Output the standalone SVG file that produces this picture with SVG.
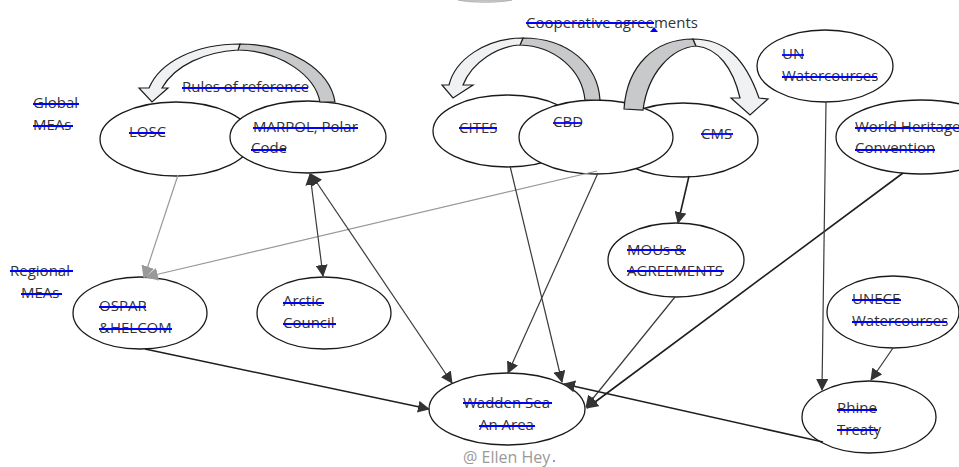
<svg xmlns="http://www.w3.org/2000/svg" width="959" height="467" viewBox="0 0 959 467">
<style>
.n{fill:#fff;stroke:#1a1a1a;stroke-width:1.3}
.t{font-family:"Open Sans","Liberation Sans",sans-serif;font-size:15px;fill:#333}
.s{stroke:#0000ff;stroke-width:1.8}
.c{fill:none;stroke:#3a3a3a;stroke-width:1.2}
.ck{fill:none;stroke:#1e1e1e;stroke-width:1.6}
.cg{fill:none;stroke:#999;stroke-width:1.2}
.lt{fill:#f0f1f3;stroke:#1e1e1e;stroke-width:1.2;stroke-linejoin:miter}
.dk{fill:#c8c9cb;stroke:#1e1e1e;stroke-width:1.2}
</style>
<defs>
<marker id="ah" viewBox="0 0 12 12" markerWidth="12" markerHeight="12" refX="11" refY="6" orient="auto-start-reverse" markerUnits="userSpaceOnUse"><path d="M0,0 L12,6 L0,12 Z" fill="#333"/></marker>
<marker id="ag" viewBox="0 0 12 12" markerWidth="13" markerHeight="13" refX="11" refY="6" orient="auto-start-reverse" markerUnits="userSpaceOnUse"><path d="M0,0 L12,6 L0,12 Z" fill="#999"/></marker>
</defs>
<rect width="959" height="467" fill="#fff"/>
<path d="M458,0 C470,3 500,3 512,0 Z" fill="#cfcfcf" stroke="#aaa" stroke-width="0.8"/>

<g id="label-global"><text class="t" x="33" y="108">Global</text><line class="s" x1="33" y1="104" x2="79" y2="104"/><text class="t" x="33" y="130">MEAs</text><line class="s" x1="33" y1="126" x2="73" y2="126"/></g>
<g id="label-regional"><text class="t" x="10" y="276">Regional</text><line class="s" x1="10" y1="271" x2="73" y2="271"/><text class="t" x="21" y="298">MEAs</text><line class="s" x1="21" y1="294" x2="62" y2="294"/></g>
<g id="label-rules"><text class="t" x="182" y="92">Rules of reference</text><line class="s" x1="182" y1="88" x2="308" y2="88"/></g>
<g id="label-coop"><text class="t" x="526" y="28">Cooperative agreements</text><line class="s" x1="526" y1="23" x2="654" y2="23"/><path d="M650,32 L654,27 L658,32 Z" fill="#0000ff"/></g>

<g id="losc"><ellipse class="n" cx="176" cy="139" rx="76" ry="37"/><text class="t" x="129" y="137">LOSC</text><line class="s" x1="129" y1="133" x2="165" y2="133"/></g>
<g id="marpol"><ellipse class="n" cx="308" cy="137" rx="78" ry="36"/><text class="t" x="253" y="132">MARPOL, Polar</text><line class="s" x1="253" y1="128" x2="358" y2="128"/><text class="t" x="251" y="153">Code</text><line class="s" x1="251" y1="150" x2="286" y2="150"/></g>
<g id="cites"><ellipse class="n" cx="507" cy="131" rx="74" ry="36"/><text class="t" x="459" y="133">CITES</text><line class="s" x1="459" y1="128" x2="497" y2="128"/></g>
<g id="cms"><ellipse class="n" cx="683" cy="140" rx="75" ry="37"/><text class="t" x="701" y="139">CMS</text><line class="s" x1="701" y1="134" x2="733" y2="134"/></g>
<g id="cbd"><ellipse class="n" cx="596" cy="137" rx="77" ry="37"/><text class="t" x="553" y="127">CBD</text><line class="s" x1="553" y1="123" x2="582" y2="123"/></g>
<g id="un"><ellipse class="n" cx="825" cy="66" rx="68" ry="36"/><text class="t" x="782" y="59">UN</text><line class="s" x1="782" y1="55" x2="804" y2="55"/><text class="t" x="782" y="81">Watercourses</text><line class="s" x1="782" y1="77" x2="877" y2="77"/></g>
<g id="whc"><ellipse class="n" cx="921" cy="137" rx="85" ry="37"/><text class="t" x="855" y="132">World Heritage</text><line class="s" x1="855" y1="128" x2="959" y2="128"/><text class="t" x="855" y="153">Convention</text><line class="s" x1="855" y1="150" x2="935" y2="150"/></g>
<g id="mous"><ellipse class="n" cx="676" cy="260" rx="68" ry="37"/><text class="t" x="627" y="255">MOUs &amp;</text><line class="s" x1="627" y1="250" x2="686" y2="250"/><text class="t" x="627" y="276">AGREEMENTS</text><line class="s" x1="627" y1="271" x2="724" y2="271"/></g>
<g id="ospar"><ellipse class="n" cx="140" cy="313" rx="67" ry="36"/><text class="t" x="99" y="311">OSPAR</text><line class="s" x1="99" y1="307" x2="146" y2="307"/><text class="t" x="99" y="333">&amp;HELCOM</text><line class="s" x1="99" y1="329" x2="172" y2="329"/></g>
<g id="arctic"><ellipse class="n" cx="324" cy="313" rx="67" ry="36"/><text class="t" x="283" y="306">Arctic</text><line class="s" x1="283" y1="303" x2="324" y2="303"/><text class="t" x="283" y="328">Council</text><line class="s" x1="283" y1="324" x2="336" y2="324"/></g>
<g id="unece"><ellipse class="n" cx="893" cy="312" rx="66" ry="36"/><text class="t" x="852" y="304">UNECE</text><line class="s" x1="852" y1="300" x2="901" y2="300"/><text class="t" x="852" y="326">Watercourses</text><line class="s" x1="852" y1="322" x2="947" y2="322"/></g>
<g id="rhine"><ellipse class="n" cx="869" cy="417" rx="67" ry="36"/><text class="t" x="837" y="413">Rhine</text><line class="s" x1="837" y1="410" x2="877" y2="410"/><text class="t" x="837" y="435">Treaty</text><line class="s" x1="837" y1="430" x2="878" y2="430"/></g>
<g id="wadden"><ellipse class="n" cx="507" cy="409" rx="78" ry="36"/><text class="t" x="463" y="408">Wadden Sea</text><line class="s" x1="463" y1="403" x2="552" y2="403"/><text class="t" x="479" y="430">An Area</text><line class="s" x1="479" y1="426" x2="535" y2="426"/></g>
<g id="credit"><text x="463" y="463" style="font-family:'Open Sans','Liberation Sans',sans-serif;font-size:16px;fill:#9a9a9a">@ Ellen Hey</text><circle cx="554" cy="461" r="0.8" fill="#00f"/></g>

<g id="connectors">
<path class="cg" d="M178,175 L144,278" marker-end="url(#ag)"/>
<path class="cg" d="M597,171 L146,277" marker-end="url(#ag)"/>
<path class="c" d="M310,174 L323,276" marker-start="url(#ah)" marker-end="url(#ah)"/>
<path class="c" d="M311,174 L452,383" marker-start="url(#ah)" marker-end="url(#ah)"/>
<path class="c" d="M510,166 L562,382" marker-end="url(#ah)"/>
<path class="c" d="M598,173 L508,373" marker-end="url(#ah)"/>
<path class="ck" d="M689,176 L678,223" marker-end="url(#ah)"/>
<path class="c" d="M675,297 L586,407" marker-end="url(#ah)"/>
<path class="ck" d="M903,173 L587,408" marker-end="url(#ah)"/>
<path class="c" d="M826,102 L822,390" marker-end="url(#ah)"/>
<path class="c" d="M893,348 L871,380" marker-end="url(#ah)"/>
<path class="ck" d="M823,442 L564,384" marker-end="url(#ah)"/>
<path class="ck" d="M145,349 L429,409" marker-end="url(#ah)"/>
</g>

<g id="block-arrows">
<path class="dk" d="M240,44 C290,44 330,70 335,102 L320,102 C315,76 282,51 238,50 Z"/>
<path class="lt" d="M139,88 L149,88 C160,62 195,44 240,44 L238,50 C205,52 175,65 162,88 L168,88 L152,102 Z"/>
<path class="dk" d="M523,38 C568,38 598,65 600,100 L585,100 C582,70 555,46 520,45 Z"/>
<path class="lt" d="M442,85 L449,85 C455,60 485,38 523,38 L520,45 C498,46 472,62 463,85 L473,85 L453,98 Z"/>
<path class="dk" d="M624,109 C627,65 655,39 693,39 L696,46 C672,48 648,72 643,110 Z"/>
<path class="lt" d="M693,39 C725,39 745,58 759,98 L768,99 L750,115 L731,98 L740,98 C733,68 718,48 696,46 Z"/>
</g>
</svg>
